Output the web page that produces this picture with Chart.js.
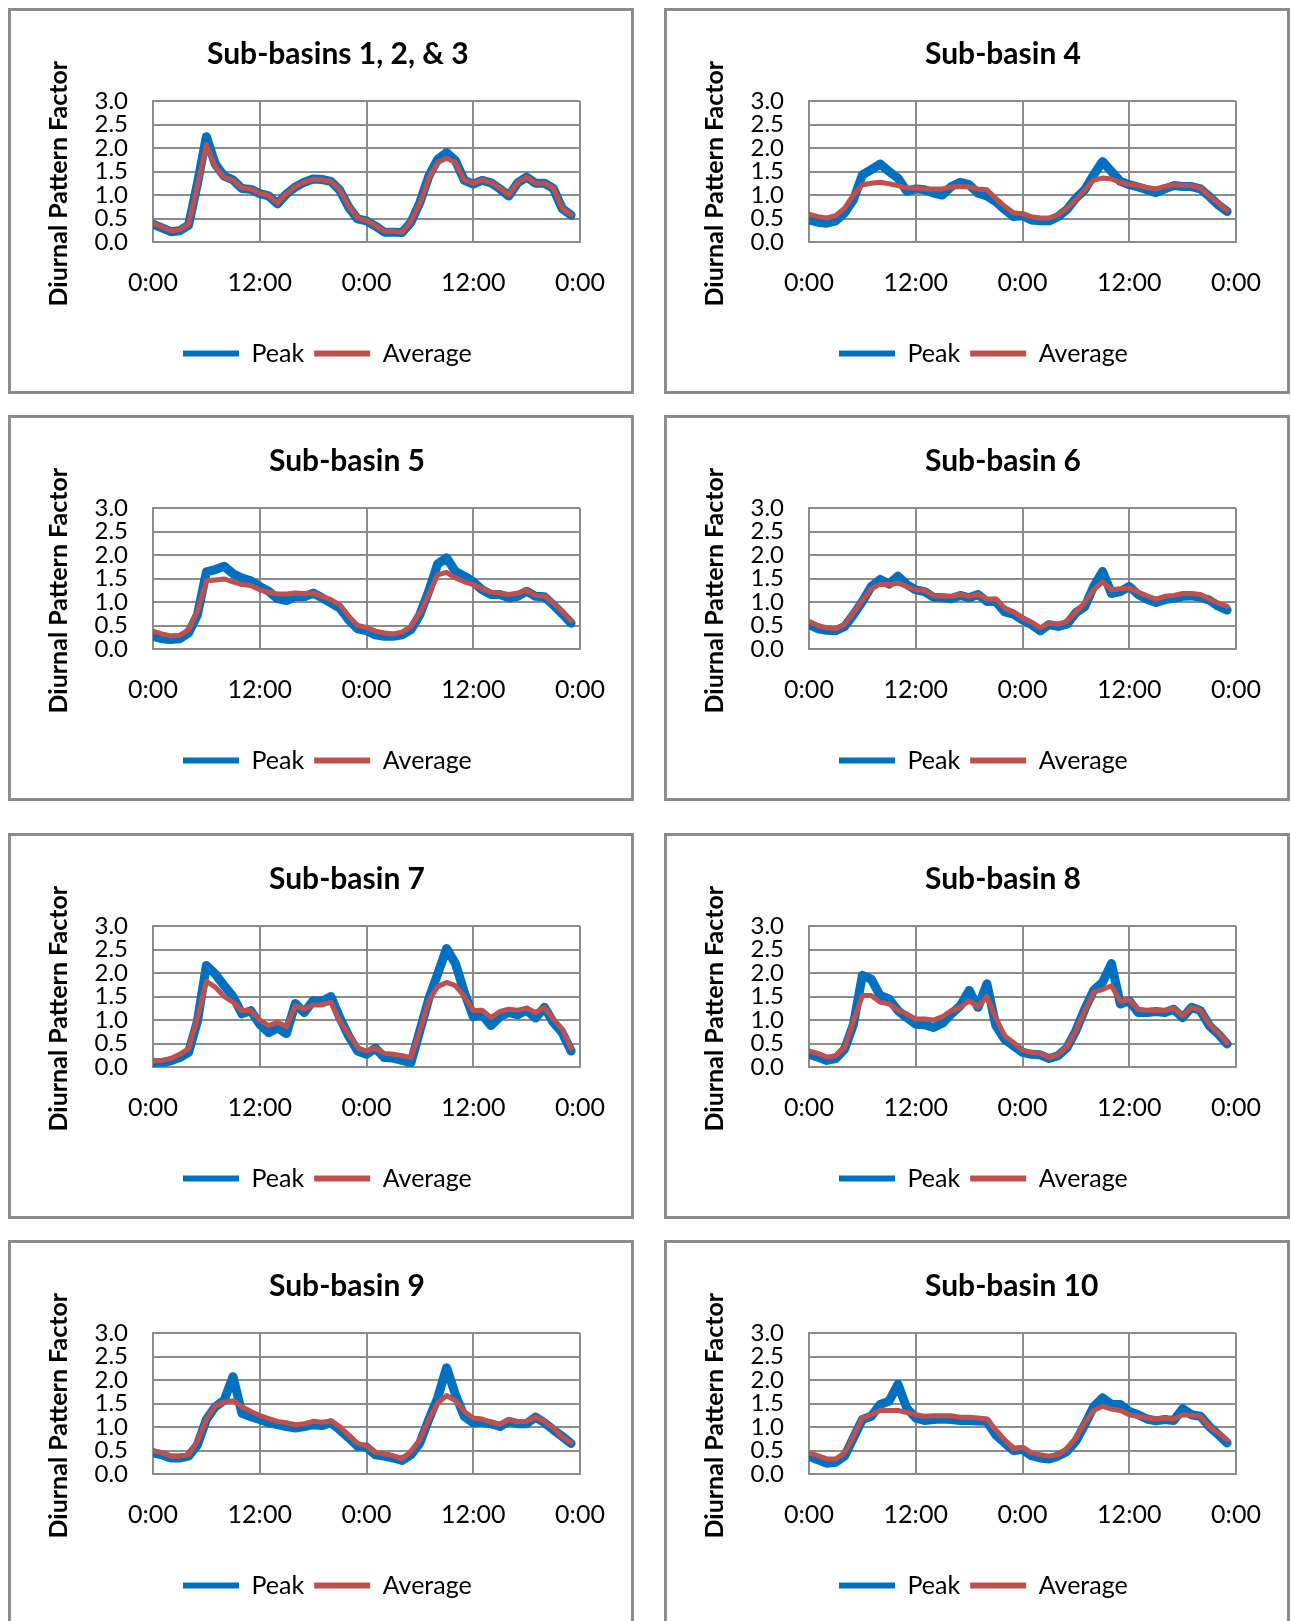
<!DOCTYPE html>
<html>
<head>
<meta charset="utf-8">
<title>Diurnal Pattern Factors by Sub-basin</title>
<script src="https://cdn.jsdelivr.net/npm/chart.js@4.4.1/dist/chart.umd.min.js"></script>
<style>
    html, body { margin: 0; padding: 0; background: #fff; }
    body { width: 1291px; height: 1621px; position: relative; overflow: hidden; }
    .frame { position: absolute; width: 626px; height: 386px; box-sizing: border-box; border: 3px solid #8c8c8c; }
    .frame canvas { position: absolute; left: -3px; top: -3px; }
</style>
</head>
<body>
<div id="panels"></div>
<script>
/*
 * Diurnal pattern factors (Peak vs Average) for each sub-basin,
 * hourly values over two days.
 */

// hour of the two-day period for every point
const hours = [0, 1, 2, 3, 4, 5, 6, 7, 8, 9, 10, 11, 12, 13, 14, 15, 16, 17, 18, 19, 20, 21, 22, 23,
    24, 25, 26, 27, 28, 29, 30, 31, 32, 33, 34, 35, 36, 37, 38, 39, 40, 41, 42, 43, 44, 45, 46, 47];
const xTicks = [0, 12, 24, 36, 48];
const yTicks = [0, 0.5, 1.0, 1.5, 2.0, 2.5, 3.0];
const seriesNames = ['Peak', 'Average'];

const titles = ['Sub-basins 1, 2, & 3', 'Sub-basin 4', 'Sub-basin 5', 'Sub-basin 6',
    'Sub-basin 7', 'Sub-basin 8', 'Sub-basin 9', 'Sub-basin 10'];

const peak123 = [0.38, 0.30, 0.22, 0.24, 0.36, 1.25, 2.24, 1.66, 1.40, 1.32, 1.14, 1.12, 1.03, 0.98, 0.81, 1.02, 1.17, 1.27, 1.34, 1.33, 1.29, 1.10, 0.74, 0.49,
    0.45, 0.34, 0.21, 0.21, 0.20, 0.42, 0.84, 1.40, 1.76, 1.90, 1.73, 1.31, 1.23, 1.31, 1.26, 1.13, 0.98, 1.26, 1.38, 1.25, 1.25, 1.14, 0.71, 0.57];
const avg123 = [0.40, 0.32, 0.24, 0.26, 0.38, 1.20, 2.07, 1.61, 1.38, 1.31, 1.15, 1.13, 1.04, 0.99, 0.83, 1.03, 1.18, 1.27, 1.34, 1.32, 1.29, 1.11, 0.76, 0.51,
    0.46, 0.35, 0.23, 0.23, 0.21, 0.44, 0.83, 1.36, 1.69, 1.78, 1.69, 1.32, 1.25, 1.32, 1.27, 1.15, 1.00, 1.27, 1.38, 1.25, 1.25, 1.15, 0.72, 0.58];

const peak4 = [0.47, 0.42, 0.40, 0.45, 0.62, 0.90, 1.43, 1.54, 1.66, 1.50, 1.36, 1.08, 1.13, 1.11, 1.04, 1.00, 1.18, 1.27, 1.22, 1.04, 0.98, 0.86, 0.69, 0.54,
    0.56, 0.47, 0.45, 0.45, 0.54, 0.69, 0.93, 1.11, 1.43, 1.71, 1.50, 1.29, 1.22, 1.17, 1.11, 1.05, 1.13, 1.20, 1.18, 1.18, 1.13, 0.97, 0.79, 0.65];
const avg4 = [0.59, 0.54, 0.51, 0.56, 0.72, 1.00, 1.22, 1.25, 1.27, 1.24, 1.20, 1.15, 1.15, 1.13, 1.13, 1.13, 1.17, 1.18, 1.17, 1.13, 1.11, 0.93, 0.76, 0.62,
    0.60, 0.54, 0.51, 0.51, 0.58, 0.72, 0.90, 1.11, 1.32, 1.36, 1.34, 1.27, 1.23, 1.20, 1.16, 1.13, 1.18, 1.22, 1.20, 1.20, 1.15, 0.98, 0.83, 0.67];

const peak5 = [0.27, 0.22, 0.20, 0.22, 0.34, 0.73, 1.64, 1.69, 1.76, 1.60, 1.51, 1.45, 1.33, 1.23, 1.07, 1.03, 1.12, 1.11, 1.19, 1.09, 0.98, 0.87, 0.62, 0.43,
    0.39, 0.30, 0.27, 0.27, 0.30, 0.41, 0.73, 1.23, 1.81, 1.94, 1.65, 1.55, 1.43, 1.26, 1.16, 1.16, 1.09, 1.12, 1.23, 1.12, 1.11, 0.94, 0.75, 0.55];
const avg5 = [0.38, 0.32, 0.28, 0.29, 0.41, 0.80, 1.45, 1.47, 1.49, 1.43, 1.37, 1.35, 1.26, 1.21, 1.17, 1.17, 1.19, 1.18, 1.19, 1.12, 1.05, 0.94, 0.70, 0.50,
    0.46, 0.38, 0.34, 0.32, 0.36, 0.48, 0.77, 1.16, 1.58, 1.63, 1.51, 1.43, 1.37, 1.28, 1.21, 1.19, 1.16, 1.19, 1.25, 1.14, 1.13, 0.98, 0.80, 0.60];

const peak6 = [0.52, 0.43, 0.40, 0.39, 0.48, 0.73, 1.01, 1.33, 1.48, 1.38, 1.55, 1.37, 1.26, 1.22, 1.10, 1.09, 1.07, 1.14, 1.09, 1.16, 1.01, 1.01, 0.79, 0.74,
    0.62, 0.52, 0.39, 0.52, 0.48, 0.53, 0.77, 0.90, 1.33, 1.65, 1.18, 1.22, 1.33, 1.16, 1.06, 0.99, 1.05, 1.08, 1.12, 1.13, 1.10, 1.04, 0.91, 0.83];
const avg6 = [0.59, 0.50, 0.45, 0.43, 0.52, 0.77, 1.03, 1.28, 1.38, 1.37, 1.40, 1.33, 1.26, 1.25, 1.13, 1.13, 1.12, 1.16, 1.12, 1.16, 1.06, 1.07, 0.87, 0.79,
    0.66, 0.57, 0.45, 0.55, 0.53, 0.59, 0.79, 0.98, 1.26, 1.43, 1.26, 1.28, 1.30, 1.21, 1.13, 1.06, 1.12, 1.14, 1.18, 1.18, 1.16, 1.06, 0.98, 0.91];

const peak7 = [0.09, 0.09, 0.13, 0.20, 0.31, 0.98, 2.16, 1.98, 1.73, 1.50, 1.13, 1.20, 0.91, 0.73, 0.83, 0.71, 1.35, 1.16, 1.41, 1.40, 1.50, 1.05, 0.66, 0.34,
    0.27, 0.40, 0.20, 0.19, 0.14, 0.09, 0.77, 1.45, 1.98, 2.52, 2.20, 1.59, 1.07, 1.11, 0.88, 1.07, 1.16, 1.11, 1.21, 1.04, 1.27, 0.95, 0.73, 0.34];
const avg7 = [0.13, 0.14, 0.18, 0.27, 0.39, 1.05, 1.82, 1.70, 1.50, 1.38, 1.20, 1.20, 1.00, 0.88, 0.95, 0.86, 1.30, 1.23, 1.32, 1.32, 1.38, 0.98, 0.70, 0.41,
    0.34, 0.40, 0.29, 0.27, 0.24, 0.20, 0.77, 1.41, 1.71, 1.80, 1.73, 1.50, 1.20, 1.21, 1.05, 1.18, 1.23, 1.21, 1.25, 1.16, 1.27, 1.02, 0.81, 0.40];

const peak8 = [0.27, 0.21, 0.14, 0.18, 0.38, 0.91, 1.95, 1.87, 1.52, 1.45, 1.20, 1.05, 0.91, 0.90, 0.84, 0.93, 1.13, 1.30, 1.63, 1.27, 1.77, 0.88, 0.59, 0.45,
    0.31, 0.27, 0.26, 0.18, 0.24, 0.41, 0.77, 1.23, 1.63, 1.80, 2.20, 1.34, 1.41, 1.16, 1.16, 1.18, 1.16, 1.23, 1.05, 1.27, 1.20, 0.88, 0.70, 0.49];
const avg8 = [0.34, 0.29, 0.21, 0.24, 0.41, 0.98, 1.52, 1.52, 1.38, 1.34, 1.21, 1.13, 1.02, 1.02, 1.00, 1.07, 1.20, 1.27, 1.41, 1.28, 1.50, 1.05, 0.66, 0.52,
    0.36, 0.31, 0.29, 0.20, 0.27, 0.43, 0.77, 1.20, 1.59, 1.65, 1.73, 1.40, 1.43, 1.23, 1.21, 1.21, 1.20, 1.25, 1.09, 1.27, 1.21, 0.91, 0.73, 0.52];

const peak9 = [0.45, 0.41, 0.34, 0.34, 0.38, 0.62, 1.16, 1.43, 1.57, 2.07, 1.29, 1.22, 1.16, 1.09, 1.05, 1.01, 0.98, 1.01, 1.05, 1.03, 1.09, 0.94, 0.77, 0.59,
    0.57, 0.41, 0.38, 0.34, 0.29, 0.41, 0.66, 1.16, 1.62, 2.26, 1.69, 1.22, 1.09, 1.10, 1.07, 1.01, 1.12, 1.07, 1.07, 1.21, 1.09, 0.94, 0.80, 0.65];
const avg9 = [0.50, 0.45, 0.38, 0.38, 0.41, 0.70, 1.16, 1.45, 1.53, 1.56, 1.43, 1.33, 1.25, 1.18, 1.12, 1.09, 1.05, 1.07, 1.12, 1.10, 1.13, 1.01, 0.82, 0.65,
    0.60, 0.46, 0.43, 0.39, 0.32, 0.48, 0.73, 1.16, 1.51, 1.67, 1.56, 1.33, 1.19, 1.17, 1.10, 1.06, 1.16, 1.11, 1.12, 1.21, 1.12, 0.98, 0.79, 0.67];

const peak10 = [0.38, 0.30, 0.23, 0.25, 0.38, 0.77, 1.16, 1.23, 1.48, 1.55, 1.91, 1.40, 1.19, 1.14, 1.16, 1.17, 1.16, 1.14, 1.14, 1.13, 1.12, 0.83, 0.66, 0.50,
    0.52, 0.39, 0.34, 0.32, 0.38, 0.48, 0.70, 1.05, 1.43, 1.62, 1.48, 1.48, 1.33, 1.26, 1.17, 1.13, 1.16, 1.14, 1.39, 1.26, 1.23, 1.01, 0.84, 0.66];
const avg10 = [0.45, 0.39, 0.32, 0.32, 0.45, 0.80, 1.19, 1.26, 1.35, 1.35, 1.35, 1.31, 1.26, 1.23, 1.24, 1.24, 1.24, 1.21, 1.21, 1.19, 1.17, 0.94, 0.73, 0.54,
    0.57, 0.45, 0.41, 0.38, 0.41, 0.55, 0.77, 1.09, 1.35, 1.44, 1.38, 1.35, 1.26, 1.23, 1.19, 1.17, 1.19, 1.17, 1.26, 1.25, 1.23, 1.01, 0.87, 0.73];

const peakSeries = [peak123, peak4, peak5, peak6, peak7, peak8, peak9, peak10];
const avgSeries = [avg123, avg4, avg5, avg6, avg7, avg8, avg9, avg10];

const PEAK_COLOR = '#0070C0';
const AVG_COLOR = '#C0504D';
const GRID_COLOR = '#8c8c8c';

// frame layout on the page
const colLefts = [8, 664];
const rowTops = [8, 415, 833, 1240];
// where each title / legend starts inside its canvas
const titleStarts = [199, 261, 261, 261, 261, 261, 261, 261];
const LEGEND_START = 175;

Chart.defaults.font.family = 'Lato, "Open Sans", sans-serif';
Chart.defaults.color = '#000';

/**
 * Moves the title and legend blocks to fixed horizontal spots after layout.
 */
const placeBlocks = {
    id: 'placeBlocks',
    afterLayout(chart, args, opts) {
        const title = chart.titleBlock;
        if (title && opts.titleStart != null) {
            const w = title.right - title.left;
            title.left = opts.titleStart;
            title.right = opts.titleStart + w;
        }
        const legend = chart.legend;
        if (legend && opts.legendStart != null) {
            const w = legend.right - legend.left;
            legend.left = opts.legendStart - legend.options.labels.padding;
            legend.right = legend.left + w;
        }
    }
};

/**
 * Creates the framed canvases and draws every panel.
 */
function initPanels() {
    const host = document.getElementById('panels');
    titles.forEach((title, i) => {
        const frame = document.createElement('div');
        frame.className = 'frame';
        frame.style.left = colLefts[i % 2] + 'px';
        frame.style.top = rowTops[Math.floor(i / 2)] + 'px';
        const canvas = document.createElement('canvas');
        canvas.width = 626;
        canvas.height = 386;
        frame.appendChild(canvas);
        host.appendChild(frame);
        renderPanel(canvas, title, peakSeries[i], avgSeries[i], titleStarts[i]);
    });
}

/**
 * Renders one sub-basin chart.
 * @param {HTMLCanvasElement} canvas - Target canvas.
 * @param {string} title - Chart title.
 * @param {number[]} peak - Peak pattern factors.
 * @param {number[]} average - Average pattern factors.
 * @param {number} titleStart - Left edge of the title text.
 */
function renderPanel(canvas, title, peak, average, titleStart) {
    const toPoints = values => hours.map((h, i) => ({ x: h, y: values[i] }));
    const gridStyle = { color: GRID_COLOR, lineWidth: 2, drawTicks: false };

    new Chart(canvas, {
        type: 'line',
        data: {
            datasets: [{
                label: seriesNames[0],
                data: toPoints(peak),
                borderColor: PEAK_COLOR,
                backgroundColor: PEAK_COLOR,
                borderWidth: 9,
                order: 2
            }, {
                label: seriesNames[1],
                data: toPoints(average),
                borderColor: AVG_COLOR,
                backgroundColor: AVG_COLOR,
                borderWidth: 5,
                order: 1
            }]
        },
        plugins: [placeBlocks],
        options: {
            responsive: false,
            animation: false,
            layout: { padding: { left: 30, right: 18, top: 0, bottom: 18 } },
            elements: {
                point: { radius: 0 },
                line: { tension: 0, fill: false, borderJoinStyle: 'round', borderCapStyle: 'round' }
            },
            plugins: {
                placeBlocks: { titleStart: titleStart, legendStart: LEGEND_START },
                title: {
                    display: true,
                    text: title,
                    align: 'start',
                    font: { size: 30, weight: 'bold' },
                    padding: { top: 28, bottom: 29 }
                },
                legend: {
                    position: 'bottom',
                    align: 'start',
                    labels: {
                        font: { size: 25 },
                        boxWidth: 56,
                        boxHeight: 6,
                        padding: 10,
                        sort: (a, b) => a.datasetIndex - b.datasetIndex,
                        generateLabels: chart => Chart.defaults.plugins.legend.labels.generateLabels(chart)
                            .map(item => ({ ...item, fillStyle: item.strokeStyle, lineWidth: 0 }))
                    }
                },
                tooltip: { enabled: false }
            },
            scales: {
                x: {
                    type: 'linear',
                    min: xTicks[0],
                    max: xTicks[xTicks.length - 1],
                    afterBuildTicks: scale => { scale.ticks = xTicks.map(v => ({ value: v })); },
                    ticks: {
                        callback: value => (value % 24) + ':00',
                        font: { size: 25 },
                        padding: 26,
                        maxRotation: 0,
                        autoSkip: false
                    },
                    grid: gridStyle,
                    border: { color: GRID_COLOR, width: 2 },
                    afterFit: scale => { scale.height = 89; }
                },
                y: {
                    min: yTicks[0],
                    max: yTicks[yTicks.length - 1],
                    afterBuildTicks: scale => { scale.ticks = yTicks.map(v => ({ value: v })); },
                    ticks: {
                        callback: value => value.toFixed(1),
                        font: { size: 24 },
                        padding: 25,
                        autoSkip: false
                    },
                    grid: gridStyle,
                    border: { color: GRID_COLOR, width: 2 },
                    title: {
                        display: true,
                        text: 'Diurnal Pattern Factor    ',
                        font: { size: 25, weight: 'bold' },
                        padding: { top: 6, bottom: 0 }
                    },
                    afterFit: scale => { scale.width = 115; }
                },
                y2: {
                    position: 'right',
                    display: true,
                    grid: { display: false, drawTicks: false },
                    border: { display: false },
                    ticks: { display: false },
                    afterFit: scale => { scale.width = 36; }
                }
            }
        }
    });
}

document.addEventListener('DOMContentLoaded', initPanels);
</script>
</body>
</html>
